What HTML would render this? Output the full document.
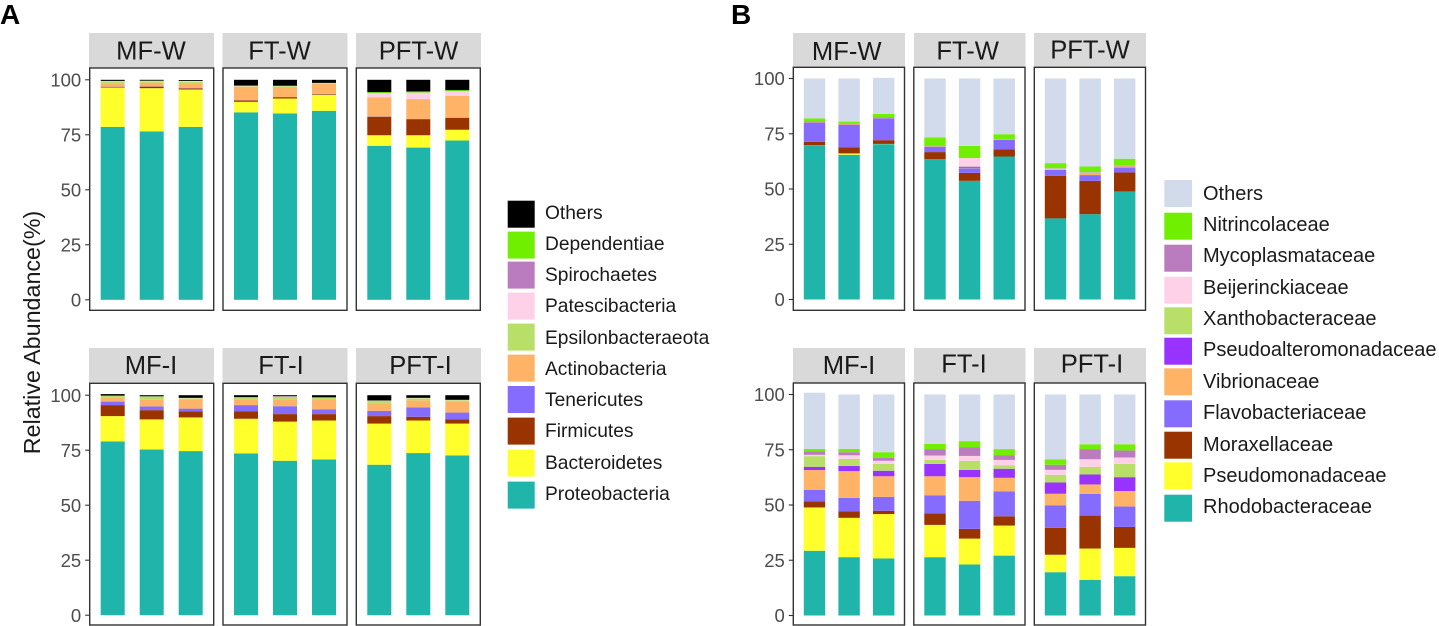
<!DOCTYPE html>
<html lang="en">
<head>
<meta charset="utf-8">
<title>Relative abundance stacked bar charts</title>
<style>
  html, body { margin: 0; padding: 0; background: #fff; }
  svg { display: block; font-family: "Liberation Sans", Arial, sans-serif; }
  .strip { fill: #d9d9d9; }
  .strip-label { font-size: 25.6px; fill: #1a1a1a; text-anchor: middle; }
  .frame { fill: none; stroke: #333; stroke-width: 1.4; }
  .tick-label { font-size: 18.5px; fill: #4d4d4d; text-anchor: end; }
  .tick { stroke: #333; stroke-width: 1.1; }
  .legend-a { font-size: 19.2px; fill: #1a1a1a; }
  .legend-b { font-size: 20px; fill: #1a1a1a; }
  .letter { font-size: 28px; font-weight: bold; fill: #000; }
</style>
</head>
<body>
<svg id="figure" width="1439" height="626" viewBox="0 0 1439 626" xmlns="http://www.w3.org/2000/svg">
  <text class="letter" x="0" y="24">A</text>
  <text class="letter" x="731" y="24">B</text>
  <text x="0" y="0" transform="translate(40,332.5) rotate(-90)" text-anchor="middle" font-size="23.3" fill="#1a1a1a">Relative Abundance(%)</text>

  <g>
    <rect class="strip" x="89" y="33" width="125" height="35"/>
    <rect class="strip" x="222.5" y="33" width="125" height="35"/>
    <rect class="strip" x="356" y="33" width="125" height="35"/>
    <rect class="strip" x="89" y="348" width="125" height="35"/>
    <rect class="strip" x="222.5" y="348" width="125" height="35"/>
    <rect class="strip" x="356" y="348" width="125" height="35"/>
    <text class="strip-label" x="151" y="59.3">MF-W</text>
    <text class="strip-label" x="279.5" y="59.3">FT-W</text>
    <text class="strip-label" x="418.5" y="59.3">PFT-W</text>
    <text class="strip-label" x="151" y="374">MF-I</text>
    <text class="strip-label" x="281" y="374">FT-I</text>
    <text class="strip-label" x="420.5" y="374">PFT-I</text>
  </g>

  <g>
    <rect class="strip" x="793" y="33" width="112" height="34.5"/>
    <rect class="strip" x="914" y="33" width="111.5" height="34.5"/>
    <rect class="strip" x="1034" y="33" width="112" height="34.5"/>
    <rect class="strip" x="793" y="348" width="112" height="35"/>
    <rect class="strip" x="914" y="348" width="111.5" height="35"/>
    <rect class="strip" x="1034" y="348" width="112" height="35"/>
    <text class="strip-label" x="846.7" y="60">MF-W</text>
    <text class="strip-label" x="967.7" y="59.3">FT-W</text>
    <text class="strip-label" x="1090" y="58.3">PFT-W</text>
    <text class="strip-label" x="849" y="374">MF-I</text>
    <text class="strip-label" x="964" y="372.7">FT-I</text>
    <text class="strip-label" x="1092" y="372.7">PFT-I</text>
  </g>

  <g>
    <rect x="507.7" y="200.7" width="27" height="27" fill="#000000"/>
    <text class="legend-a" x="545" y="219">Others</text>
    <rect x="507.7" y="231.6" width="27" height="27" fill="#70f000"/>
    <text class="legend-a" x="545" y="250">Dependentiae</text>
    <rect x="507.7" y="261.6" width="27" height="27" fill="#bb7cbf"/>
    <text class="legend-a" x="545" y="281">Spirochaetes</text>
    <rect x="507.7" y="292.6" width="27" height="27" fill="#ffd1e8"/>
    <text class="legend-a" x="545" y="312">Patescibacteria</text>
    <rect x="507.7" y="323.6" width="27" height="27" fill="#b8e068"/>
    <text class="legend-a" x="545" y="344">Epsilonbacteraeota</text>
    <rect x="507.7" y="354.6" width="27" height="27" fill="#ffb366"/>
    <text class="legend-a" x="545" y="375">Actinobacteria</text>
    <rect x="507.7" y="386" width="27" height="27" fill="#866bff"/>
    <text class="legend-a" x="545" y="406">Tenericutes</text>
    <rect x="507.7" y="417.6" width="27" height="27" fill="#993300"/>
    <text class="legend-a" x="545" y="437">Firmicutes</text>
    <rect x="507.7" y="449.6" width="27" height="27" fill="#ffff2b"/>
    <text class="legend-a" x="545" y="469">Bacteroidetes</text>
    <rect x="507.7" y="481.6" width="27" height="27" fill="#1fb5ab"/>
    <text class="legend-a" x="545" y="500">Proteobacteria</text>
  </g>

  <g>
    <rect x="1164.3" y="180" width="27.7" height="27" fill="#d2dbeb"/>
    <text class="legend-b" x="1203" y="200">Others</text>
    <rect x="1164.3" y="212.7" width="27.7" height="27" fill="#70f000"/>
    <text class="legend-b" x="1203" y="231">Nitrincolaceae</text>
    <rect x="1164.3" y="244.7" width="27.7" height="27" fill="#bb7cbf"/>
    <text class="legend-b" x="1203" y="262">Mycoplasmataceae</text>
    <rect x="1164.3" y="276.7" width="27.7" height="27" fill="#ffd1e8"/>
    <text class="legend-b" x="1203" y="294">Beijerinckiaceae</text>
    <rect x="1164.3" y="307.3" width="27.7" height="27" fill="#b8e068"/>
    <text class="legend-b" x="1203" y="325">Xanthobacteraceae</text>
    <rect x="1164.3" y="337.7" width="27.7" height="27" fill="#9933ff"/>
    <text class="legend-b" x="1203" y="356">Pseudoalteromonadaceae</text>
    <rect x="1164.3" y="368.3" width="27.7" height="27" fill="#ffb366"/>
    <text class="legend-b" x="1203" y="388">Vibrionaceae</text>
    <rect x="1164.3" y="400.3" width="27.7" height="27" fill="#866bff"/>
    <text class="legend-b" x="1203" y="419">Flavobacteriaceae</text>
    <rect x="1164.3" y="431.7" width="27.7" height="27" fill="#993300"/>
    <text class="legend-b" x="1203" y="451">Moraxellaceae</text>
    <rect x="1164.3" y="462.3" width="27.7" height="27" fill="#ffff2b"/>
    <text class="legend-b" x="1203" y="482">Pseudomonadaceae</text>
    <rect x="1164.3" y="494.7" width="27.7" height="27" fill="#1fb5ab"/>
    <text class="legend-b" x="1203" y="513">Rhodobacteraceae</text>
  </g>
</svg>

<script>
// Y-axis tick labels shared by all facets
const tickValues = [0, 25, 50, 75, 100];

// Stack colours, bottom to top
const phylumColors = ['#1fb5ab', '#ffff2b', '#993300', '#866bff', '#ffb366', '#b8e068', '#ffd1e8', '#bb7cbf', '#70f000', '#000000'];
const familyColors = ['#1fb5ab', '#ffff2b', '#993300', '#866bff', '#ffb366', '#9933ff', '#b8e068', '#ffd1e8', '#bb7cbf', '#70f000', '#d2dbeb'];

// Chart A: phylum abundance. Order: Proteobacteria, Bacteroidetes, Firmicutes, Tenericutes,
// Actinobacteria, Epsilonbacteraeota, Patescibacteria, Spirochaetes, Dependentiae, Others
const phylumMFW = [
  [78.6, 17.9, 0.3, 0.1, 1.6, 0.7, 0.2, 0, 0.1, 0.5],
  [76.5, 19.7, 0.7, 0.1, 1.7, 0.6, 0.2, 0, 0.1, 0.4],
  [78.6, 17.0, 0.5, 0.1, 2.3, 0.6, 0.3, 0, 0.1, 0.4]
];
const phylumFTW = [
  [85.2, 4.8, 0.6, 0.1, 6.2, 0.2, 0.1, 0, 0.2, 2.6],
  [84.7, 6.8, 0.6, 0.1, 4.6, 0.2, 0.1, 0, 0.2, 2.7],
  [85.9, 7.3, 0.3, 0.1, 4.7, 0.1, 0.1, 0, 0.1, 1.4]
];
const phylumPFTW = [
  [70.0, 4.8, 8.4, 0.1, 8.7, 0.1, 1.8, 0, 0.5, 5.6],
  [69.2, 5.6, 7.3, 0.1, 9.0, 0.1, 2.9, 0, 0.5, 5.3],
  [72.4, 4.9, 5.4, 0.1, 9.9, 0.1, 2.0, 0, 0.5, 4.7]
];
const phylumMFI = [
  [79.0, 11.5, 5.0, 1.6, 1.8, 0.8, 0.1, 0, 0, 0.7],
  [75.3, 13.7, 4.2, 1.7, 3.0, 1.5, 0.1, 0, 0, 0.5],
  [74.6, 15.3, 2.8, 1.2, 4.1, 0.6, 0.2, 0, 0, 1.2]
];
const phylumFTI = [
  [73.5, 15.8, 3.3, 2.9, 2.5, 0.9, 0.1, 0, 0.1, 0.9],
  [70.2, 17.8, 3.4, 3.6, 3.0, 1.2, 0.3, 0, 0, 0.5],
  [70.8, 17.7, 2.9, 2.2, 4.6, 0.6, 0.2, 0, 0, 1.0]
];
const phylumPFTI = [
  [68.4, 18.7, 3.4, 2.4, 3.5, 1.1, 0.1, 0, 0, 2.4],
  [73.7, 14.8, 1.7, 4.2, 3.3, 0.9, 0.2, 0, 0, 1.2],
  [72.6, 14.5, 1.9, 3.1, 5.2, 0.4, 0.1, 0, 0.1, 2.1]
];

// Chart B: family abundance. Order: Rhodobacteraceae, Pseudomonadaceae, Moraxellaceae, Flavobacteriaceae,
// Vibrionaceae, Pseudoalteromonadaceae, Xanthobacteraceae, Beijerinckiaceae, Mycoplasmataceae, Nitrincolaceae, Others
const familyMFW = [
  [69.7, 0.1, 1.5, 8.8, 0.2, 0, 0, 0, 0.2, 1.4, 18.1],
  [65.5, 0.6, 2.8, 10.1, 0.2, 0, 0, 0, 0.3, 1.0, 19.5],
  [70.3, 0.1, 1.7, 9.9, 0.1, 0, 0, 0, 0.4, 1.5, 16.3]
];
const familyFTW = [
  [63.5, 0, 3.2, 2.4, 0.1, 0, 0, 0, 0.2, 3.9, 26.7],
  [53.7, 0, 3.6, 2.1, 0.2, 0.5, 0.1, 3.8, 0, 5.5, 30.5],
  [64.7, 0, 3.3, 4.2, 0.1, 0, 0, 0, 0.2, 2.3, 25.2]
];
const familyPFTW = [
  [36.7, 0, 19.3, 2.7, 0.3, 0, 0, 0.2, 0.2, 2.3, 38.3],
  [38.6, 0, 15.1, 2.6, 0.9, 0.1, 0, 0.1, 0.2, 2.6, 39.8],
  [48.9, 0, 8.6, 2.2, 0.6, 0.1, 0, 0.1, 0.1, 3.1, 36.3]
];
const familyMFI = [
  [29.3, 19.6, 2.8, 5.2, 8.9, 1.5, 4.8, 0.6, 1.5, 1.2, 25.4],
  [26.4, 17.8, 2.9, 6.1, 12.1, 2.4, 3.2, 1.6, 1.4, 1.5, 24.6],
  [25.8, 20.1, 1.5, 6.3, 9.3, 2.5, 3.1, 1.4, 1.3, 2.6, 26.1]
];
const familyFTI = [
  [26.4, 14.6, 5.2, 8.2, 8.6, 5.6, 1.8, 2.0, 2.9, 2.4, 22.3],
  [23.1, 11.7, 4.4, 12.7, 10.7, 3.3, 4.1, 2.2, 4.0, 2.7, 21.1],
  [27.1, 13.6, 4.2, 11.2, 6.2, 4.1, 1.6, 2.4, 2.0, 2.9, 24.7]
];
const familyPFTI = [
  [19.6, 7.9, 12.2, 10.2, 5.2, 5.1, 3.4, 2.3, 2.3, 2.5, 29.3],
  [16.1, 14.2, 14.9, 9.8, 4.3, 4.5, 3.5, 3.4, 4.6, 2.2, 22.5],
  [17.8, 12.8, 9.5, 9.2, 7.0, 6.3, 6.0, 2.9, 3.2, 2.8, 22.5]
];

const NS = 'http://www.w3.org/2000/svg';
const figure = document.getElementById('figure');

function makeEl(tag, attrs, parent) {
  const el = document.createElementNS(NS, tag);
  Object.keys(attrs).forEach(function (k) { el.setAttribute(k, attrs[k]); });
  parent.appendChild(el);
  return el;
}

function drawChart(facets, colors, geo) {
  // Axis functions
  const panelX = function (col) { return geo.originX + col * geo.panelStep; };
  const barX = function (col, bar) { return panelX(col) + geo.barOffset + bar * geo.barStep; };
  const valueY = function (row, value) { return geo.zeroY[row] - value * geo.pxPerUnit; };

  facets.forEach(function (rowFacets, row) {
    rowFacets.forEach(function (bars, col) {
      const group = makeEl('g', {}, figure);
      
      

      bars.forEach(function (segments, barIndex) {
        let cumulative = 0;
        segments.forEach(function (value, seriesIndex) {
          if (value <= 0) { return; }
          const top = valueY(row, cumulative + value);
          const rect = makeEl('rect', {
            x: barX(col, barIndex),
            y: top,
            width: geo.barWidth,
            height: value * geo.pxPerUnit,
            fill: colors[seriesIndex]
          }, group);
          
          
          cumulative += value;
        });
      });

      const frame = makeEl('rect', {
        x: panelX(col),
        y: geo.frameTop[row],
        width: geo.panelWidth,
        height: geo.frameHeight[row],
        'class': 'frame'
      }, group);
      
      
    });

    tickValues.forEach(function (tick) {
      const y = valueY(row, tick);
      const mark = makeEl('line', {
        x1: geo.originX - 4.5,
        x2: geo.originX,
        y1: y,
        y2: y,
        'class': 'tick'
      }, figure);
      
      

      const label = makeEl('text', {
        x: geo.originX - 8.5,
        y: y + 6.6,
        'class': 'tick-label'
      }, figure);
      
      
      label.textContent = String(tick);
    });
  });
}

drawChart(
  [[phylumMFW, phylumFTW, phylumPFTW], [phylumMFI, phylumFTI, phylumPFTI]],
  phylumColors,
  { originX: 89.7, panelStep: 133.3, panelWidth: 124, barOffset: 11, barStep: 39, barWidth: 24,
    zeroY: [299.8, 615.2], pxPerUnit: 2.2, frameTop: [68, 383.3], frameHeight: [242.3, 241.7] }
);

drawChart(
  [[familyMFW, familyFTW, familyPFTW], [familyMFI, familyFTI, familyPFTI]],
  familyColors,
  { originX: 793.3, panelStep: 120.5, panelWidth: 111.2, barOffset: 10.5, barStep: 34.6, barWidth: 21.4,
    zeroY: [299.5, 615.5], pxPerUnit: 2.21, frameTop: [67.3, 383], frameHeight: [243, 242] }
);
</script>
</body>
</html>
